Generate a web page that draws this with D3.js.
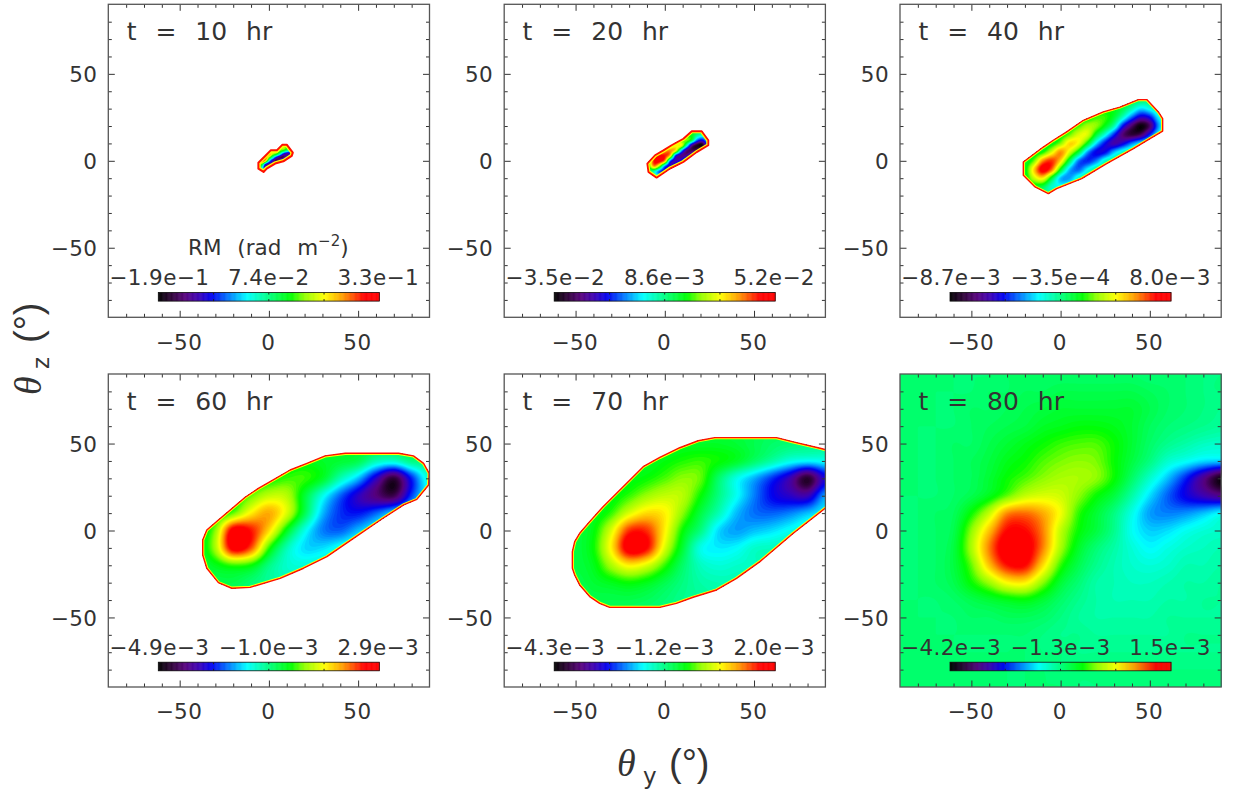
<!DOCTYPE html>
<html><head><meta charset="utf-8">
<script src="https://cdn.jsdelivr.net/npm/d3@7"></script>
<style>html,body{margin:0;background:#fff}svg{display:block}text{font-family:"DejaVu Sans",sans-serif;fill:#333}</style>
</head><body><svg id="c" width="1233" height="792"></svg>
<script>
// ---- labels ----
const hours = [10, 20, 40, 60, 70, 80];
const barLow = ["−1.9e−1", "−3.5e−2", "−8.7e−3", "−4.9e−3", "−4.3e−3", "−4.2e−3"];
const barMid = ["7.4e−2", "8.6e−3", "−3.5e−4", "−1.0e−3", "−1.2e−3", "−1.3e−3"];
const barHigh = ["3.3e−1", "5.2e−2", "8.0e−3", "2.9e−3", "2.0e−3", "1.5e−3"];
const majorTicks = [-50, 0, 50];
const minorTicks = [-80,-70,-60,-40,-30,-20,-10,10,20,30,40,60,70,80];
// ---- colour bar (position along bar in %, colour) ----
const barStops = [0, 6, 12, 18, 24, 32, 40, 60, 66, 75, 83, 93, 100];
const barColors = ["#000000","#2e0038","#56007c","#3c00b4","#0000f0","#0080ff","#00ffff","#00ff00","#90ff00","#ffff00","#ffa000","#ff0000","#ff0000"];
// ---- grid origin [first θy, top θz, step in degrees] ----
const gridSpec = [[-8,12,2],[-12,18,3],[-25,40,5],[-40,50,10],[-60,60,10],[-90,90,10]];
// ---- RM, in % of that panel's colour bar ----
const rm10 = [
[56,56,56,56,56,56,56,56,56,56,56,56,56],
[56,56,56,56,56,56,56,56,58,58,56,56,56],
[56,56,56,56,56,56,56,60,72,62,56,54,54],
[56,56,56,60,70,80,72,66,60,50,42,54,54],
[56,56,60,84,88,70,62,46,24,14,22,52,54],
[56,56,86,92,66,46,24,10,8,28,50,54,54],
[56,66,92,76,40,18,8,22,44,52,54,54,54],
[60,70,60,24,12,26,46,54,54,54,54,54,54],
[56,56,44,20,36,52,54,54,54,54,54,54,54],
[54,54,50,48,52,54,54,54,54,54,54,54,54],
[54,54,54,54,54,54,54,54,54,54,54,54,54]];
const rm20 = [
[56,56,56,56,56,56,56,56,56,56,54,52,52,52],
[56,56,56,56,56,56,56,56,56,58,50,46,52,52],
[56,56,56,56,56,56,56,58,66,56,32,24,40,50],
[56,56,56,56,56,60,72,76,48,16,4,2,30,50],
[56,56,56,60,78,84,76,40,14,8,12,32,50,52],
[56,56,80,92,92,78,26,14,14,28,46,52,52,52],
[54,62,92,96,82,30,18,24,44,52,52,52,52,52],
[54,60,84,66,32,20,30,48,52,52,52,52,52,52],
[54,50,46,30,24,38,50,52,52,52,52,52,52,52],
[52,50,46,40,44,50,52,52,52,52,52,52,52,52],
[50,50,50,50,50,52,52,52,52,52,52,52,52,52]];
const rm40 = [
[56,56,56,56,56,56,56,56,56,56,56,56,56,55,54,53,52,52],
[56,56,56,56,56,56,56,56,56,56,56,56,56,54,52,50,50,50],
[56,56,56,56,56,56,56,56,56,57,58,58,54,46,38,42,48,50],
[56,56,56,56,56,56,56,56,58,62,62,56,44,30,20,24,40,48],
[56,56,56,56,56,56,58,62,68,66,58,46,24,10,1,10,34,47],
[56,56,56,56,56,58,64,72,72,56,42,26,11,6,10,26,42,48],
[56,56,56,56,58,66,78,74,58,38,24,17,22,32,40,46,48,49],
[56,56,56,60,72,84,72,56,34,23,24,36,44,48,49,49,49,49],
[55,56,64,84,90,78,54,32,26,32,44,48,49,49,49,49,49,49],
[55,57,78,96,86,58,36,30,40,48,49,49,49,49,49,49,49,49],
[54,56,70,76,56,36,34,44,49,49,49,49,49,49,49,49,49,49],
[54,55,56,54,44,42,46,49,49,49,49,49,49,49,49,49,49,49],
[54,54,52,50,48,48,49,49,49,49,49,49,49,49,49,49,49,49]];
const rm60 = [
[54,54,54,54,54,54,54,55,55,55,55,54,53,52],
[54,54,54,55,56,57,58,57,56,54,46,44,50,50],
[54,54,55,57,59,62,62,57,46,36,20,6,26,44],
[54,55,58,64,70,69,56,42,30,20,12,8,28,42],
[54,56,64,76,82,72,54,36,27,25,30,38,44,48],
[55,66,96,92,78,58,42,32,30,36,42,46,48,48],
[55,68,96,88,62,46,38,38,42,46,48,48,48,48],
[54,58,62,60,50,44,43,45,47,48,48,48,48,48],
[54,54,54,51,48,46,46,47,48,48,48,48,48,48],
[54,54,54,51,48,46,46,47,48,48,48,48,48,48]];
const rm70 = [
[54,54,54,54,55,55,55,55,55,55,54,53,52,52,52,52],
[54,54,54,54,55,56,56,57,57,57,56,54,52,51,50,50],
[54,54,54,55,56,57,59,61,62,60,57,52,47,42,40,41],
[54,54,55,56,58,60,63,66,64,52,42,35,27,18,5,22],
[54,55,56,58,62,67,70,69,60,50,41,32,24,20,18,34],
[54,55,57,62,72,78,76,66,55,46,36,31,30,32,36,40],
[54,55,59,72,90,90,76,60,50,38,34,36,38,41,44,46],
[54,55,60,76,97,93,72,56,42,39,40,44,45,46,47,48],
[54,55,58,68,76,72,62,52,45,43,44,45,46,47,48,48],
[54,54,56,58,60,58,54,50,47,46,46,47,47,48,48,48],
[53,53,54,54,54,53,51,49,48,47,47,48,48,48,48,48],
[53,53,53,53,52,51,50,49,48,48,48,48,48,48,48,48]];
const rm80 = [
[51,51,51,51,51,51,52,52,52,52,52,52,52,52,51,51,51,50,50],
[51,51,51,51,51,52,52,53,53,54,54,54,54,54,53,52,51,50,50],
[51,51,51,51,52,52,53,54,55,56,56,56,56,56,54,52,51,50,49],
[51,51,51,51,52,53,54,55,57,58,59,59,58,56,53,51,50,49,48],
[51,51,51,52,52,54,56,58,60,62,63,63,60,56,52,49,47,45,44],
[51,51,51,52,53,55,58,60,63,65,66,65,60,55,50,44,41,38,37],
[51,51,51,52,53,56,60,63,66,68,68,66,60,52,44,36,26,14,2],
[51,51,51,52,54,58,64,70,72,71,66,60,55,47,38,30,23,18,14],
[51,51,52,53,60,70,84,86,82,74,62,56,50,42,34,32,33,36,40],
[51,51,52,54,66,80,93,93,85,70,60,55,49,41,37,38,41,43,44],
[51,51,52,55,68,85,98,97,85,68,57,51,47,43,40,42,44,45,46],
[51,51,52,55,64,80,92,93,78,62,54,49,46,44,43,44,46,46,47],
[51,51,52,54,60,67,75,76,66,56,51,47,46,45,45,46,47,47,48],
[51,51,51,52,54,56,58,59,56,52,49,47,46,46,46,47,47,48,48],
[51,51,51,51,52,52,53,53,52,50,48,47,47,47,47,48,48,48,48],
[51,51,51,51,51,51,51,51,50,49,49,48,48,48,48,48,49,49,49],
[51,51,51,51,51,51,51,51,50,50,49,49,49,49,49,49,49,49,49],
[51,51,51,51,51,51,51,51,51,50,50,50,50,50,50,50,50,50,50],
[51,51,51,51,51,51,51,51,51,51,50,50,50,50,50,50,50,50,50]];
// ---- edge of the region with data: [θy, θz] (none at 80 hr) ----
const edge10 = [[-5.9,-1.1],[-2.1,2.8],[1,6],[4.4,6],[7.6,9.3],[10,9.3],[13.4,4.7],[12.8,2.8],[8.1,-.3],[3.5,-1.6],[-1.2,-4.5],[-3,-6.4],[-5.9,-4.5]];
const edge20 = [[-9.8,-1.6],[-5.5,3.2],[-.8,6],[3.8,8.9],[10.4,12.7],[15.1,17],[20.7,17],[24.4,11.8],[24.4,8.9],[17.9,5],[10.4,-.7],[2.9,-4.5],[-4.6,-9.7],[-9.2,-6.4]];
const edge40 = [[-20.9,-.7],[-9.7,7.9],[-4.1,11.8],[3.4,16.6],[12.8,23.3],[23.9,28.1],[33.3,30.9],[43.6,35.2],[48.3,35.2],[54.8,28.1],[57.2,24.2],[57.2,17.1],[50.1,12.7],[40.8,7],[25.8,-1.6],[11.8,-10.3],[-2.2,-16],[-6.9,-18.9],[-14.3,-15],[-20.9,-8.3]];
const edge60 = [[-37.1,-5.5],[-34.8,.3],[-28.3,6],[-13.3,19.1],[-5.9,24.2],[.7,28.1],[11.9,34.8],[21.3,38.6],[31.5,42.9],[42.8,44.4],[72.7,44.4],[81,42.9],[86.7,38.6],[89.8,32.9],[89.5,26.2],[82.9,17.9],[75.5,14.7],[63.3,6.6],[47.4,-4.5],[32.5,-15],[19.4,-21.7],[6.3,-27.5],[-10.5,-32.7],[-20.8,-33.2],[-28.3,-30],[-34.8,-21.7],[-37.1,-14.1]];
const edge70 = [[-51.8,-12.2],[-50.5,-6.4],[-47.7,-1.6],[-42.1,5.1],[-34.6,13.7],[-12.1,36.7],[-2.8,42],[8.4,47.6],[18.7,51.6],[28,53.4],[62.6,53.4],[72,51],[87,47.3],[92,46],[92,14.5],[72,-1.6],[53.3,-17.9],[40.2,-27.5],[29,-34.2],[15.9,-38.4],[6.5,-41.9],[-2.8,-44.2],[-30.9,-44.2],[-36.5,-41.9],[-42.1,-38],[-47.7,-31.3],[-50.5,-25.6],[-51.8,-21.7]];

const grids = [rm10, rm20, rm40, rm60, rm70, rm80];
const edges = [edge10, edge20, edge40, edge60, edge70, null];
const rimWidth = [2, 1.8, 1.4, 1.4, 1.4, 0];
const colLeft = [108.3, 504.2, 900], rowTop = [4.3, 374], W = 321.2, H = 313;

const svg = d3.select("#c");
const defs = svg.append("defs");
const barColor = d3.scaleLinear().domain(barStops).range(barColors).clamp(true);
const LABEL = {"font-size":21.5, "letter-spacing":0.4};
const style = (s, o) => { for (const k in o) s.attr(k, o[k]); return s; };

// smooth upsampling of a value grid (Catmull-Rom) for contouring only
function refine(grid, k) {
  const n = grid[0].length, m = grid.length, N = (n-1)*k+1, M = (m-1)*k+1, out = new Float64Array(N*M);
  const cr = (a,b,c,d,t) => b + .5*t*(c-a + t*(2*a-5*b+4*c-d + t*(3*(b-c)+d-a)));
  const at = (j,i) => grid[Math.max(0,Math.min(m-1,j))][Math.max(0,Math.min(n-1,i))];
  for (let J=0;J<M;J++) for (let I=0;I<N;I++) {
    const j=Math.min(m-2,Math.floor(J/k)), i=Math.min(n-2,Math.floor(I/k)), ty=J/k-j, tx=I/k-i;
    const row = q => cr(at(q,i-1),at(q,i),at(q,i+1),at(q,i+2),tx);
    out[J*N+I] = Math.max(0,Math.min(100,cr(row(j-1),row(j),row(j+1),row(j+2),ty)));
  }
  return {values:out, N, M};
}

hours.forEach((hr, p) => {
  const L = colLeft[p%3], T = rowTop[p<3?0:1];
  const x = d3.scaleLinear([-90,90],[L,L+W]), y = d3.scaleLinear([-90,90],[T+H,T]);
  const g = svg.append("g");
  defs.append("clipPath").attr("id","f"+p).append("rect").attr("x",L).attr("y",T).attr("width",W).attr("height",H);
  const body = g.append("g").attr("clip-path","url(#f"+p+")");
  const line = d3.line().x(d=>x(d[0])).y(d=>y(d[1])).curve(d3.curveLinearClosed);
  const layer = body.append("g");
  if (edges[p]) {
    defs.append("clipPath").attr("id","e"+p).append("path").attr("d",line(edges[p]));
    layer.attr("clip-path","url(#e"+p+")");
  }
  // field
  const [x0,y0,step] = gridSpec[p], k = Math.max(4, Math.round(step*1.2));
  const r = refine(grids[p], k);
  const tf = d3.geoTransform({point(a,b){ this.stream.point(x(x0+(a-.5)*step/k), y(y0-(b-.5)*step/k)); }});
  const path = d3.geoPath(tf);
  const levels = d3.range(0,100,1);
  const cont = d3.contours().size([r.N,r.M]).thresholds(levels)(Array.from(r.values));
  layer.selectAll("path").data(cont).join("path").attr("d",path).attr("fill",d=>barColor(d.value+.5)).attr("stroke","none");
  // rim
  if (edges[p]) {
    layer.append("path").attr("d",line(edges[p])).attr("fill","none").attr("stroke","#ffff00").attr("stroke-width",rimWidth[p]*2.3);
    body.append("path").attr("d",line(edges[p])).attr("fill","none").attr("stroke","#ff1000").attr("stroke-width",rimWidth[p]).attr("stroke-linejoin","round");
  }
  // colour bar
  const bar = d3.scaleLinear([0,100],[L+50,L+271]);
  const barT = T+288.2, barH = 8.6;
  g.append("g").selectAll("rect").data(d3.range(0,100,.25)).join("rect")
    .attr("x",d=>bar(d)).attr("y",barT).attr("width",bar(.25)-bar(0)+.4).attr("height",barH).attr("fill",d=>barColor(d));
  g.append("rect").attr("x",bar(0)).attr("y",barT).attr("width",bar(100)-bar(0)).attr("height",barH).attr("fill","none").attr("stroke","#111").attr("stroke-width",.8);
  g.append("g").selectAll("line").data([25,50,75]).join("line").attr("x1",d=>bar(d)).attr("x2",d=>bar(d)).attr("y1",barT).attr("y2",barT+2).attr("stroke","#222");
  g.append("g").selectAll("line").data([25,50,75]).join("line").attr("x1",d=>bar(d)).attr("x2",d=>bar(d)).attr("y1",barT+barH).attr("y2",barT+barH-2).attr("stroke","#222");
  // axes
  const axColor = "#333";
  const sty = s => { s.select(".domain").remove(); s.selectAll("line").attr("stroke",axColor).attr("stroke-width",1); return s; };
  const minor = (ax,tr) => sty(g.append("g").attr("transform",tr).call(ax.tickValues(minorTicks).tickSize(-3.5).tickFormat("")));
  const major = ax => ax.tickValues(majorTicks).tickSize(-6.5);
  const fmt = d => String(d).replace("-","−");
  minor(d3.axisBottom(x),`translate(0,${T+H})`); minor(d3.axisTop(x),`translate(0,${T})`);
  minor(d3.axisLeft(y),`translate(${L},0)`); minor(d3.axisRight(y),`translate(${L+W},0)`);
  sty(g.append("g").attr("transform",`translate(0,${T})`).call(major(d3.axisTop(x)).tickFormat("")));
  sty(g.append("g").attr("transform",`translate(${L+W},0)`).call(major(d3.axisRight(y)).tickFormat("")));
  const xa = sty(g.append("g").attr("transform",`translate(0,${T+H})`).call(major(d3.axisBottom(x)).tickPadding(17).tickFormat(fmt)));
  xa.selectAll("text").each(function(){style(d3.select(this),LABEL);}).attr("dy","0.71em").attr("dx",-1.2);
  const ya = sty(g.append("g").attr("transform",`translate(${L},0)`).call(major(d3.axisLeft(y)).tickPadding(11).tickFormat(fmt)));
  ya.selectAll("text").each(function(){style(d3.select(this),LABEL);}).attr("dy","0.36em");
  g.append("rect").attr("x",L).attr("y",T).attr("width",W).attr("height",H).attr("fill","none").attr("stroke","#555").attr("stroke-width",1.3);
  // texts
  g.append("text").attr("x",L+18.4).attr("y",T+36).attr("font-size",25).attr("word-spacing",11).text(`t = ${hr} hr`);
  const by = T+281;
  [[barLow[p],51],[barMid[p],160.5],[barHigh[p],270]].forEach(([s,dx]) => {
    const t = g.append("text").attr("x",L+dx).attr("y",by).attr("text-anchor","middle").text(s);
    style(t,LABEL);
  });
  if (p===0) {
    const t = g.append("text").attr("x",L+160).attr("y",T+251).attr("text-anchor","middle").attr("font-size",21.5).attr("word-spacing",9);
    t.append("tspan").text("RM (rad m");
    t.append("tspan").attr("dy",-9).attr("font-size",15).text("−2");
    t.append("tspan").attr("dy",9).text(")");
  }
});
// axis titles
function axisTitle(sel, sub) {
  sel.attr("font-size",38);
  sel.append("tspan").attr("x",0).attr("font-family","Liberation Serif").attr("font-style","italic").text("θ");
  sel.append("tspan").attr("x",26).attr("dy",8).attr("font-size",23).text(sub);
  sel.append("tspan").attr("x",52).attr("dy",-8).style("font-family","Liberation Sans").text("(°)");
}
axisTitle(svg.append("text").attr("transform","translate(617,776)"), "y");
axisTitle(svg.append("text").attr("transform","translate(41,395) rotate(-90)"), "z");
</script></body></html>
